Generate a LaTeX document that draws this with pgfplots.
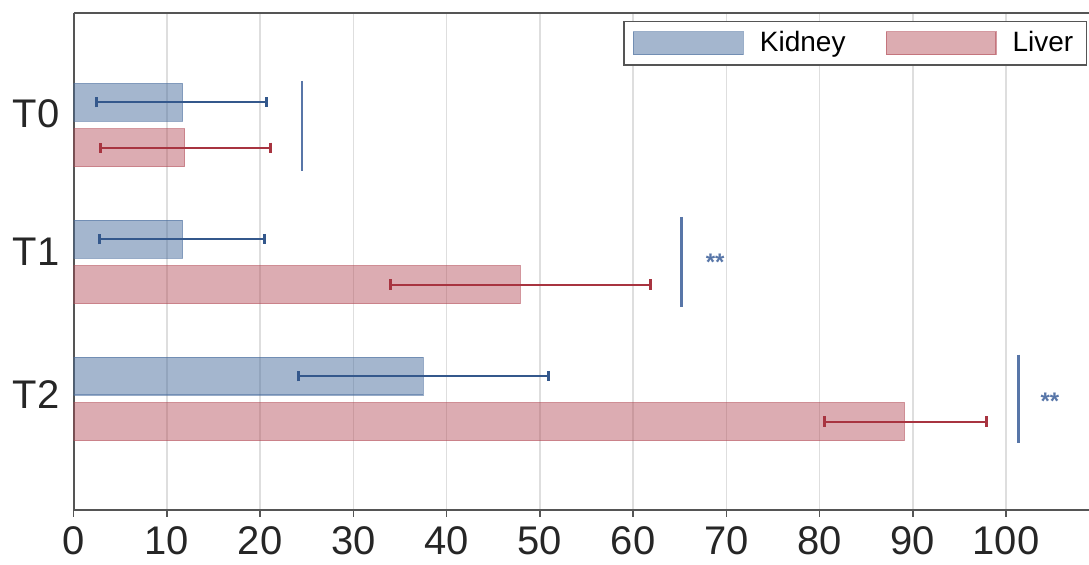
\documentclass[border=0pt]{standalone}
\usepackage{fontspec}
\setmainfont{Liberation Sans}
\usepackage{pgfplots}
\pgfplotsset{compat=1.18}

\definecolor{kidfill}{RGB}{74,110,158}
\definecolor{livfill}{RGB}{178,72,84}
\definecolor{kidline}{RGB}{52,88,140}
\definecolor{livline}{RGB}{168,52,64}
\definecolor{sigline}{RGB}{88,118,168}
\definecolor{axisgray}{RGB}{85,85,85}
\definecolor{gridgray}{RGB}{222,222,222}

\begin{document}
\begin{tikzpicture}
\begin{axis}[
  name=ax,
  scale only axis,
  width=508bp, height=248.5bp,
  xmin=0, xmax=108.9,
  ymin=-0.81, ymax=2.818,
  axis x line=box, axis y line=left,
  axis line style={-, axisgray, line width=1bp},
  xtick={0,10,...,100},
  xtick pos=bottom,
  tick align=outside,
  major tick length=3.5bp,
  xtick style={axisgray, line width=0.75bp},
  ytick={0.033,1.073,2.08},
  yticklabels={T2,T1,T0},
  ytick style={draw=none},
  xmajorgrids,
  grid style={gridgray, line width=0.75bp},
  /pgf/number format/assume math mode=true,
  xticklabel style={font=\fontsize{20bp}{24bp}\selectfont, text=black!85, yshift=-3bp, inner ysep=1.5bp},
  yticklabel style={font=\fontsize{20bp}{24bp}\selectfont, text=black!85},
  legend columns=2,
  legend style={at={(1,1)}, anchor=north east, xshift=-1bp, yshift=-4bp,
    draw=axisgray, line width=0.75bp,
    font=\fontsize{14bp}{16bp}\selectfont,
    inner xsep=4.5bp, inner ysep=3bp,
    /tikz/every even column/.append style={column sep=18bp}},
  legend image code/.code={\draw[#1] (0bp,-5.75bp) rectangle (55bp,5.75bp); \path (61bp,0bp);},
]
% Kidney (upper bar of each pair)
\addplot[xbar, bar width=0.277, bar shift=0,
  fill=kidfill, fill opacity=0.5, draw=kidfill, draw opacity=0.55, line width=0.6bp,
  error bars/.cd, x dir=both, x explicit,
  error bar style={kidline, line width=1bp, opacity=1},
  error mark options={rotate=90, kidline, line width=1.5bp, mark size=2.6bp, opacity=1}]
coordinates {
  (11.7,2.166) += (9.0,0) -= (9.2,0)
  (11.7,1.166) += (8.8,0) -= (8.9,0)
  (37.5,0.166) += (13.4,0) -= (13.4,0)
};
% Liver (lower bar of each pair)
\addplot[xbar, bar width=0.277, bar shift=0,
  fill=livfill, fill opacity=0.45, draw=livfill, draw opacity=0.55, line width=0.6bp,
  error bars/.cd, x dir=both, x explicit,
  error bar style={livline, line width=1bp, opacity=1},
  error mark options={rotate=90, livline, line width=1.5bp, mark size=2.6bp, opacity=1}]
coordinates {
  (11.9,1.834) += (9.2,0) -= (9.0,0)
  (47.9,0.834) += (14.0,0) -= (13.9,0)
  (89.1,-0.166) += (8.8,0) -= (8.6,0)
};
\legend{Kidney, Liver}
% significance brackets
\addplot[forget plot, sigline, line width=1.4bp] coordinates {(24.5,2.322) (24.5,1.665)};
\addplot[forget plot, sigline, line width=1.4bp] coordinates {(65.2,1.329) (65.2,0.672)};
\addplot[forget plot, sigline, line width=1.4bp] coordinates {(101.3,0.322) (101.3,-0.321)};
\node[text=sigline, font=\bfseries\fontsize{12bp}{14bp}\selectfont, yshift=-2.5bp] at (axis cs:68.8,1.037) {**};
\node[text=sigline, font=\bfseries\fontsize{12bp}{14bp}\selectfont, yshift=-2.5bp] at (axis cs:104.7,0.022) {**};
\end{axis}
\pgfresetboundingbox
\path[use as bounding box] ([xshift=-36.8bp,yshift=-27.5bp]ax.south west) rectangle ([yshift=6.5bp]ax.north east);
\end{tikzpicture}
\end{document}
